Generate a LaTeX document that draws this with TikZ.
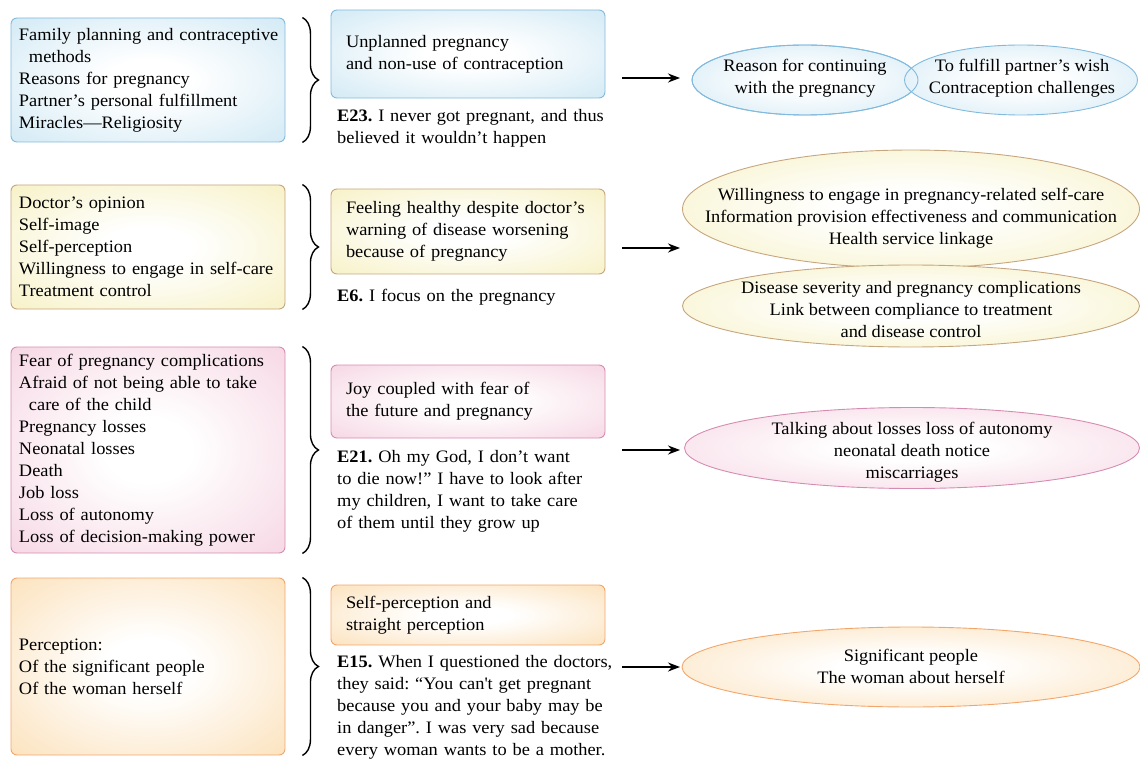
\documentclass[tikz,border=0pt]{standalone}
\usepackage{fontspec}
\setmainfont{Liberation Serif}[FakeStretch=1.05]
\usetikzlibrary{shapes.geometric,arrows.meta,decorations.pathreplacing}
\frenchspacing

\definecolor{blueline}{HTML}{82BADD}
\definecolor{bluebg}{HTML}{BCDFF0}
\definecolor{yellowline}{HTML}{C6A67E}
\definecolor{yellowbg}{HTML}{F3EBAA}
\definecolor{pinkline}{HTML}{D68CB2}
\definecolor{pinkbg}{HTML}{F2C3D6}
\definecolor{orangeline}{HTML}{F3A66C}
\definecolor{orangebg}{HTML}{FAD49C}

\pgfdeclareradialshading{blueglow}{\pgfpoint{0bp}{0bp}}{color(0bp)=(white); color(8bp)=(white); color(50bp)=(bluebg); color(72bp)=(bluebg)}
\pgfdeclareradialshading{yellowglow}{\pgfpoint{0bp}{0bp}}{color(0bp)=(white); color(8bp)=(white); color(50bp)=(yellowbg); color(72bp)=(yellowbg)}
\pgfdeclareradialshading{pinkglow}{\pgfpoint{0bp}{0bp}}{color(0bp)=(white); color(8bp)=(white); color(50bp)=(pinkbg); color(72bp)=(pinkbg)}
\pgfdeclareradialshading{orangeglow}{\pgfpoint{0bp}{0bp}}{color(0bp)=(white); color(8bp)=(white); color(50bp)=(orangebg); color(72bp)=(orangebg)}

\tikzset{
  blue/.style={draw=blueline, shade, shading=blueglow},
  yellow/.style={draw=yellowline, shade, shading=yellowglow},
  pink/.style={draw=pinkline, shade, shading=pinkglow},
  orange/.style={draw=orangeline, shade, shading=orangeglow},
  factbox/.style={rectangle, rounded corners=6pt, line width=0.9pt, minimum width=274pt,
    text width=264pt, inner xsep=5pt, align=left,
    execute at begin node={\leftskip=3pt\hyphenpenalty=10000}},
  themebox/.style={rectangle, rounded corners=6pt, line width=0.9pt, minimum width=274pt,
    text width=244pt, inner xsep=15pt, align=left},
  outcome/.style={ellipse, line width=0.9pt, inner sep=0pt},
  outtext/.style={inner sep=0pt, align=center},
  quote/.style={anchor=north west, inner sep=0pt, text width=290pt, align=left},
  bracket/.style={decorate, decoration={brace, amplitude=16pt}, line width=1.4pt},
  arr/.style={line width=1.5pt, -{Stealth[length=12pt,width=9pt]}}
}

\begin{document}
\begin{tikzpicture}[x=1pt, y=-1pt, every node/.style={font=\fontsize{17.5}{22}\selectfont}]
\useasboundingbox (0,0) rectangle (1140,759);

% row 1
\node[factbox, blue, minimum height=124pt] (fact1) at (148,80)
  {Family planning and contraceptive\\ \hspace*{10pt}methods\\ Reasons for pregnancy\\
   Partner’s personal fulfillment\\ Miracles—Religiosity};
\draw[bracket] ([xshift=17pt]fact1.north east) -- ([xshift=17pt]fact1.south east);
\node[themebox, blue, minimum height=88pt] (theme1) at (468,54)
  {Unplanned pregnancy\\ and non-use of contraception};
\node[quote] (quote1) at (337,109.5)
  {\textbf{E23.} I never got pregnant, and thus\\ believed it wouldn’t happen};
\node[outcome, blue, minimum width=226pt, minimum height=70pt] (out1a) at (805,80) {};
\node[outcome, blue, minimum width=233pt, minimum height=70pt] (out1b) at (1021,80) {};
\draw[blueline, line width=0.9pt] (out1a.center) ellipse [x radius=113pt, y radius=35pt];
\node[outtext] (txt1a) at (805,78) {Reason for continuing\\ with the pregnancy};
\node[outtext] (txt1b) at (1022,78) {To fulfill partner’s wish\\ Contraception challenges};
\coordinate (from1) at (622,78);
\coordinate (to1) at (680,78);
\draw[arr] (from1) -- (to1);

% row 2
\node[factbox, yellow, minimum height=124pt] (fact2) at (148,247)
  {Doctor’s opinion\\ Self-image\\ Self-perception\\ Willingness to engage in self-care\\
   Treatment control};
\draw[bracket] ([xshift=17pt]fact2.north east) -- ([xshift=17pt]fact2.south east);
\node[themebox, yellow, minimum height=85pt] (theme2) at (468,231.5)
  {Feeling healthy despite doctor’s\\ warning of disease worsening\\ because of pregnancy};
\node[quote] (quote2) at (337,288.5) {\textbf{E6.} I focus on the pregnancy};
\node[outcome, yellow, minimum width=457pt, minimum height=118pt] (out2a) at (911,209) {};
\node[outcome, yellow, minimum width=457pt, minimum height=82pt] (out2b) at (911,306) {};
\node[outtext] (txt2a) at (911,218) {Willingness to engage in pregnancy-related self-care\\
  Information provision effectiveness and communication\\ Health service linkage};
\node[outtext] (txt2b) at (911,310) {Disease severity and pregnancy complications\\
  Link between compliance to treatment\\ and disease control};
\coordinate (from2) at (622,248);
\coordinate (to2) at (680,248);
\draw[arr] (from2) -- (to2);

% row 3
\node[factbox, pink, minimum height=206pt] (fact3) at (148,450)
  {Fear of pregnancy complications\\ Afraid of not being able to take\\
   \hspace*{10pt}care of the child\\ Pregnancy losses\\ Neonatal losses\\ Death\\ Job loss\\
   Loss of autonomy\\ Loss of decision-making power};
\draw[bracket] ([xshift=17pt]fact3.north east) -- ([xshift=17pt]fact3.south east);
\node[themebox, pink, minimum height=73pt] (theme3) at (468,401.5)
  {Joy coupled with fear of\\ the future and pregnancy};
\node[quote] (quote3) at (337,450.5)
  {\textbf{E21.} Oh my God, I don’t want\\ to die now!” I have to look after\\
   my children, I want to take care\\ of them until they grow up};
\node[outcome, pink, minimum width=455pt, minimum height=81pt] (out3) at (912,448) {};
\node[outtext] (txt3) at (912,452) {Talking about losses loss of autonomy\\
  neonatal death notice\\ miscarriages};
\coordinate (from3) at (622,450);
\coordinate (to3) at (680,450);
\draw[arr] (from3) -- (to3);

% row 4
\node[factbox, orange, minimum height=177pt] (fact4) at (148,666.5)
  {Perception:\\ Of the significant people\\ Of the woman herself};
\draw[bracket] ([xshift=17pt]fact4.north east) -- ([xshift=17pt]fact4.south east);
\node[themebox, orange, minimum height=60pt] (theme4) at (468,615)
  {Self-perception and\\ straight perception};
\node[quote] (quote4) at (337,655.5)
  {\textbf{E15.} When I questioned the doctors,\\ they said: “You can\textquotesingle t get pregnant\\
   because you and your baby may be\\ in danger”. I was very sad because\\
   every woman wants to be a mother.};
\node[outcome, orange, minimum width=458pt, minimum height=80pt] (out4) at (911,667) {};
\node[outtext] (txt4) at (911,666) {Significant people\\ The woman about herself};
\coordinate (from4) at (622,667);
\coordinate (to4) at (680,667);
\draw[arr] (from4) -- (to4);
\end{tikzpicture}
\end{document}
